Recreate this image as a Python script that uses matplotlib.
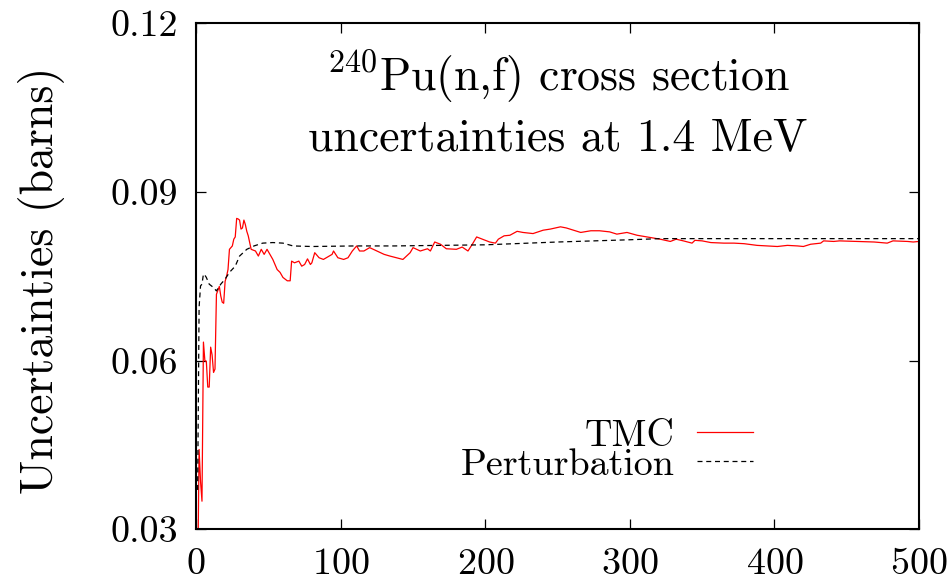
import matplotlib
matplotlib.use('Agg')
import matplotlib.pyplot as plt
from matplotlib.ticker import FixedLocator, FixedFormatter

# Computer Modern look (cmr10 ships with matplotlib)
plt.rcParams['font.family'] = 'cmr10'
plt.rcParams['mathtext.fontset'] = 'cm'
plt.rcParams['axes.formatter.use_mathtext'] = True

FS_BIG = 33      # title and axis label
FS_SMALL = 27.4  # tick labels and key

# number of random files vs. standard deviation of sigma(n,f)
tmc_n = [1, 2, 3, 4, 5, 6, 7, 8, 9, 10, 11, 12, 13, 14, 15, 16, 17, 18, 19,
         20, 21, 22, 23, 24, 25, 26, 27, 28, 29, 30, 31, 32, 33, 34, 35, 36,
         38, 41, 43, 45, 47, 49, 51, 53, 56, 58, 60, 63, 65, 66, 68, 71, 73,
         75, 77, 79, 80, 82, 85, 88, 90, 94, 95, 98, 102, 105, 108, 111, 113,
         116, 120, 125, 130, 134, 143, 148, 150, 155, 160, 162, 165, 169, 173,
         180, 184, 188, 191, 194, 199, 203, 207, 209, 213, 217, 222, 226, 233,
         240, 245, 252, 256, 266, 273, 279, 286, 291, 298, 305, 312, 321, 328,
         332, 337, 343, 345, 350, 356, 365, 372, 379, 388, 395, 402, 409, 416,
         420, 425, 432, 434, 441, 445, 457, 469, 478, 482, 492, 496, 500]
tmc_unc = [0.0200, 0.0442, 0.0385, 0.0350, 0.0633, 0.0600, 0.0599, 0.0553,
           0.0553, 0.0624, 0.0610, 0.0579, 0.0585, 0.0718, 0.0725, 0.0732,
           0.0715, 0.0704, 0.0702, 0.0741, 0.0750, 0.0762, 0.0798, 0.0801,
           0.0804, 0.0816, 0.0820, 0.0853, 0.0852, 0.0850, 0.0834, 0.0836,
           0.0850, 0.0842, 0.0830, 0.0822, 0.0798, 0.0795, 0.0786, 0.0798,
           0.0789, 0.0798, 0.0789, 0.0780, 0.0762, 0.0757, 0.0748, 0.0742,
           0.0742, 0.0777, 0.0774, 0.0777, 0.0768, 0.0771, 0.0781, 0.0771,
           0.0774, 0.0792, 0.0783, 0.0780, 0.0783, 0.0789, 0.0795, 0.0783,
           0.0780, 0.0783, 0.0795, 0.0804, 0.0795, 0.0795, 0.0801, 0.0795,
           0.0789, 0.0786, 0.0780, 0.0792, 0.0801, 0.0795, 0.0799, 0.0795,
           0.0811, 0.0807, 0.0799, 0.0798, 0.0802, 0.0795, 0.0807, 0.0820,
           0.0815, 0.0811, 0.0809, 0.0816, 0.0822, 0.0823, 0.0830, 0.0828,
           0.0826, 0.0832, 0.0834, 0.0838, 0.0836, 0.0828, 0.0831, 0.0831,
           0.0829, 0.0825, 0.0828, 0.0823, 0.0820, 0.0816, 0.0812, 0.0816,
           0.0813, 0.0809, 0.0814, 0.0813, 0.0810, 0.0809, 0.0809, 0.0808,
           0.0805, 0.0804, 0.0803, 0.0805, 0.0804, 0.0803, 0.0807, 0.0809,
           0.0813, 0.0812, 0.0813, 0.0812, 0.0811, 0.0809, 0.0813, 0.0812,
           0.0811, 0.0812]

pert_n = [1, 2, 3, 4, 5, 6, 7, 9, 12, 14, 17, 20, 23, 27, 30, 35, 40, 46,
          53, 60, 67, 80, 110, 137, 200, 250, 300, 321, 400, 500]
pert_unc = [0.0370, 0.0695, 0.0733, 0.0736, 0.0754, 0.0752, 0.0748, 0.0736,
            0.0730, 0.0724, 0.0736, 0.0745, 0.0757, 0.0768, 0.0786, 0.0798,
            0.0804, 0.0809, 0.0810, 0.0809, 0.0804, 0.0803, 0.0804, 0.0804,
            0.0806, 0.0811, 0.0815, 0.0817, 0.0817, 0.0817]

xticks = [0, 100, 200, 300, 400, 500]
yticks = [0.03, 0.06, 0.09, 0.12]
ytick_labels = ['0.03', '0.06', '0.09', '0.12']

fig = plt.figure(figsize=(9.51, 5.82), dpi=100)
ax = fig.add_axes([196.2 / 951, 1 - 529.3 / 582, 722.8 / 951, 506 / 582])

ax.plot(tmc_n, tmc_unc, color='#ff0000', lw=0.9, label='TMC')
ax.plot(pert_n, pert_unc, color='black', lw=0.9, dashes=(4, 3),
        label='Perturbation')

ax.set_xlim(0, 500)
ax.set_ylim(0.03, 0.12)
ax.xaxis.set_major_locator(FixedLocator(xticks))
ax.yaxis.set_major_locator(FixedLocator(yticks))
ax.yaxis.set_major_formatter(FixedFormatter(ytick_labels))

for sp in ax.spines.values():
    sp.set_linewidth(1.5)
ax.tick_params(direction='in', length=7, width=0.9, top=True, right=True,
               labelsize=FS_SMALL)
ax.tick_params(axis='y', pad=13)
ax.tick_params(axis='x', pad=13)

fig.text(42 / 951, 1 - 280 / 582, 'Uncertainties (barns)', rotation=90,
         ha='center', va='center', fontsize=FS_BIG)

# two-line title inside the frame
ax.text(0.5, 0.8648, r'$^{240}$Pu(n,f) cross section', transform=ax.transAxes,
        ha='center', va='baseline', fontsize=FS_BIG)
ax.text(0.5, 0.7496, 'uncertainties at 1.4 MeV', transform=ax.transAxes,
        ha='center', va='baseline', fontsize=FS_BIG)

ax.legend(loc='upper right', bbox_to_anchor=(0.770, 0.218), frameon=False,
          markerfirst=False, fontsize=FS_SMALL, handlelength=1.47,
          handletextpad=0.58, labelspacing=-0.12, borderpad=0,
          borderaxespad=0)

fig.savefig('out.png', dpi=100, facecolor='white')
